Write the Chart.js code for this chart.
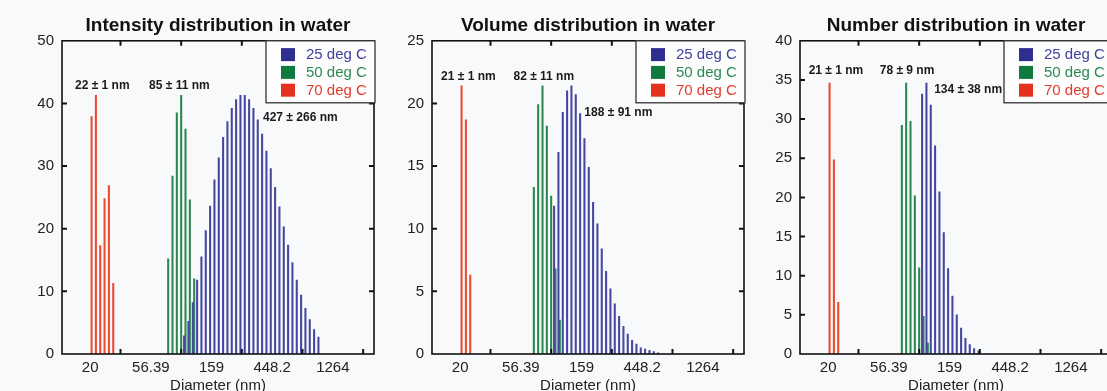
<!DOCTYPE html>
<html>
<head>
<meta charset="utf-8">
<title>Size distribution in water</title>
<script src="https://cdn.jsdelivr.net/npm/chart.js@4.4.1/dist/chart.umd.min.js"></script>
<style>
  html, body { margin: 0; padding: 0; background: #f7f9fb; overflow: hidden; }
  .wrap { position: relative; width: 1107px; height: 391px; overflow: hidden; }
  .wrap canvas { position: absolute; top: 0; }
</style>
</head>
<body>
<div class="wrap">
  <canvas id="intensityChart" width="378" height="391" style="left:0px"></canvas>
  <canvas id="volumeChart" width="378" height="391" style="left:370px"></canvas>
  <canvas id="numberChart" width="378" height="391" style="left:738px"></canvas>
</div>
<script>
// Diameter bins (nm), shared by the three panels
const diameters = [12.83, 13.81, 14.88, 16.02, 17.25, 18.57,
  20, 21.54, 23.19, 24.97, 26.89, 28.96, 31.18, 33.58, 36.16, 38.94, 41.93, 45.15, 48.62, 52.36,
  56.39, 60.72, 65.39, 70.41, 75.82, 81.65, 87.92, 94.68, 101.96, 109.8, 118.2, 127.3, 137.1, 147.6,
  159, 171.2, 184.4, 198.5, 213.8, 230.2, 247.9, 267.0, 287.5, 309.6, 333.4, 359.0, 386.6, 416.3,
  448.2, 482.7, 519.8, 559.8, 602.8, 649.1, 699.0, 752.7, 810.6, 872.9, 940.0, 1012, 1090, 1174,
  1264, 1361, 1466, 1578, 1700, 1830, 1971, 2122, 2285, 2461];
const tickLabels = ['20', '56.39', '159', '448.2', '1264'];
const minorTicks = [33.58, 94.68, 267.0, 752.7, 2122];
const seriesNames = ['25 deg C', '50 deg C', '70 deg C'];

// Intensity (%) - first bin of each series, then values
const intensityStart = [101.96, 75.82, 20];
const intensity25 = [2.9, 5.2, 8.2, 11.8, 15.5, 19.7, 23.6, 27.8, 31.3, 34.6, 37.1, 39.2, 40.6, 41.3, 41.3, 40.6,
  39.2, 37.4, 35.1, 32.4, 29.6, 26.6, 23.5, 20.3, 17.4, 14.6, 11.8, 9.4, 7.3, 5.5, 3.9, 2.7];
const intensity50 = [15.2, 28.4, 38.5, 41.3, 35.9, 24.6, 12.0];
const intensity70 = [37.9, 41.3, 17.3, 24.8, 26.9, 11.3];

// Volume (%)
const volumeStart = [101.96, 70.41, 20];
const volume25 = [11.8, 16.1, 19.3, 21.0, 21.4, 20.7, 19.2, 17.2, 14.9, 12.1, 10.4, 8.4, 6.6, 5.2, 4.0,
  3.0, 2.2, 1.6, 1.1, 0.8, 0.5, 0.4, 0.3, 0.2, 0.1];
const volume50 = [13.3, 19.9, 21.4, 18.2, 12.6, 6.8, 2.7];
const volume70 = [21.4, 18.7, 6.3];

// Number (%)
const numberStart = [101.96, 70.41, 20];
const number25 = [33.2, 34.6, 31.8, 26.6, 20.7, 15.5, 10.9, 7.4, 5.0, 3.3, 2.0, 1.2, 0.7, 0.4];
const number50 = [29.2, 34.6, 29.7, 20.2, 11.0, 4.8, 1.4];
const number70 = [34.6, 24.8, 6.6];

// Peak labels: text, bin position, height
const intensityNotes = [['22 \u00b1 1 nm', 8.8, 42.8], ['85 \u00b1 11 nm', 26.6, 42.8], ['427 \u00b1 266 nm', 54.5, 37.8]];
const volumeNotes = [['21 \u00b1 1 nm', 7.9, 22.1], ['82 \u00b1 11 nm', 25.3, 22.1], ['188 \u00b1 91 nm', 42.5, 19.3]];
const numberNotes = [['21 \u00b1 1 nm', 7.8, 36.2], ['78 \u00b1 9 nm', 24.2, 36.2], ['134 \u00b1 38 nm', 38.3, 33.7]];

const barColors = ['#4646a2', '#2c864f', '#ec4a2f'];
const keyColors = ['#2d2e90', '#0f7a3d', '#e4321e'];
const textColors = ['#3f3f9e', '#2b8a52', '#e33c2b'];

Chart.defaults.font.family = '"Liberation Sans", Arial, sans-serif';
Chart.defaults.color = '#222';

function fill(start, values) {
  const out = diameters.map(() => null);
  const i0 = diameters.indexOf(start);
  values.forEach((v, j) => { out[i0 + j] = v; });
  return out;
}

// Frame, inward ticks, legend box and peak labels
const framePlugin = {
  id: 'frame',
  afterDatasetsDraw(chart, args, opts) {
    const { ctx, chartArea: a, scales: { x, y } } = chart;
    ctx.save();
    ctx.strokeStyle = '#111';
    ctx.lineWidth = 2;
    ctx.beginPath();
    minorTicks.forEach(d => {
      const px = x.getPixelForValue(diameters.indexOf(d));
      if (px > a.right) return;
      ctx.moveTo(px, a.bottom); ctx.lineTo(px, a.bottom - 5);
      ctx.moveTo(px, a.top); ctx.lineTo(px, a.top + 5);
    });
    y.ticks.forEach(t => {
      if (t.value <= y.min || t.value >= y.max) return;
      const py = y.getPixelForValue(t.value);
      ctx.moveTo(a.left, py); ctx.lineTo(a.left + 5, py);
      ctx.moveTo(a.right, py); ctx.lineTo(a.right - 5, py);
    });
    ctx.stroke();
    ctx.lineWidth = 1.6;
    ctx.strokeRect(a.left, a.top, a.width, a.height);

    // peak labels
    ctx.fillStyle = '#1a1a1a';
    ctx.font = 'bold 12px "Liberation Sans", Arial, sans-serif';
    ctx.textAlign = 'center';
    ctx.textBaseline = 'middle';
    opts.notes.forEach(([text, bin, val]) => {
      ctx.fillText(text, x.getPixelForValue(bin), y.getPixelForValue(val));
    });

    // legend
    const right = a.right + 1, left = right - 109, top = a.top, h = 62;
    ctx.fillStyle = '#fdfdfe';
    ctx.fillRect(left, top, right - left, h);
    ctx.strokeStyle = '#333';
    ctx.lineWidth = 1.3;
    ctx.strokeRect(left, top, right - left, h);
    ctx.font = '15px "Liberation Sans", Arial, sans-serif';
    ctx.textAlign = 'left';
    chart.data.datasets.forEach((ds, i) => {
      const cy = top + 13.8 + i * 17.8;
      ctx.fillStyle = keyColors[i];
      ctx.fillRect(left + 15, cy - 6.5, 14, 13);
      ctx.fillStyle = textColors[i];
      ctx.fillText(ds.label, left + 40, cy + 0.5);
    });
    ctx.restore();
  }
};

function makeChart(id, title, yMax, yStep, starts, series, notes) {
  const ctx = document.getElementById(id).getContext('2d');
  return new Chart(ctx, {
    type: 'bar',
    data: {
      labels: diameters.map(String),
      datasets: series.map((vals, i) => ({
        label: seriesNames[i],
        data: fill(starts[i], vals),
        backgroundColor: barColors[i],
        barThickness: 1.4,
      })),
    },
    options: {
      responsive: false,
      animation: false,
      devicePixelRatio: 1,
      layout: { padding: { left: 0, right: 4, top: 0, bottom: 0 } },
      plugins: {
        legend: { display: false },
        tooltip: { enabled: false },
        title: {
          display: true, text: title, fullSize: false, color: '#111',
          font: { size: 19, weight: 'bold' }, padding: { top: 14, bottom: 4 },
        },
        frame: { notes },
      },
      scales: {
        x: {
          type: 'category',
          offset: true,
          grid: { display: false, drawTicks: false },
          border: { display: false },
          afterBuildTicks: s => { s.ticks = tickLabels.map(t => ({ value: diameters.indexOf(Number(t)) })); },
          ticks: {
            autoSkip: false, maxRotation: 0, padding: 5, color: '#222',
            font: { size: 15 },
            callback: (v, i) => tickLabels[i],
          },
          title: { display: true, text: 'Diameter (nm)', color: '#222', font: { size: 15, lineHeight: 0.7 }, padding: 0 },
          afterFit: s => { s.height = 37; },
        },
        y: {
          min: 0, max: yMax,
          grid: { display: false, drawTicks: false },
          border: { display: false },
          ticks: { stepSize: yStep, padding: 8, color: '#222', font: { size: 15 } },
          afterFit: s => { s.width = 62; },
        },
      },
    },
    plugins: [framePlugin],
  });
}

// Charts
makeChart('intensityChart', 'Intensity distribution in water', 50, 10, intensityStart,
  [intensity25, intensity50, intensity70], intensityNotes);
makeChart('volumeChart', 'Volume distribution in water', 25, 5, volumeStart,
  [volume25, volume50, volume70], volumeNotes);
makeChart('numberChart', 'Number distribution in water', 40, 5, numberStart,
  [number25, number50, number70], numberNotes);
</script>
</body>
</html>
